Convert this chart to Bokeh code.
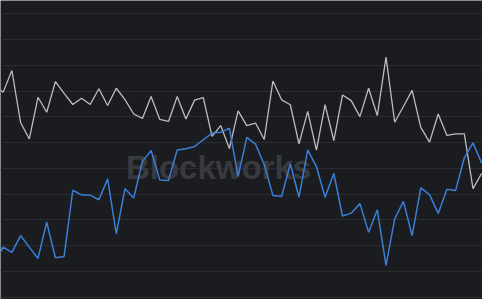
from bokeh.plotting import figure
from bokeh.models import Grid, FixedTicker, Label, Range1d, ColumnDataSource
from bokeh.embed import file_html
from bokeh.resources import INLINE

# series values (index 0 sits just left of the visible area)
grey_series = [81.8, 79.6, 88.0, 67.8, 61.4, 77.6, 71.8, 83.7, 79.1, 74.8,
               77.2, 74.8, 80.9, 74.4, 81.1, 76.7, 71.1, 69.4, 77.9, 69.0,
               68.2, 77.9, 69.2, 76.5, 77.5, 62.4, 66.6, 57.7, 72.3, 66.6,
               67.6, 61.2, 83.9, 76.6, 74.7, 59.5, 72.1, 57.1, 74.7, 60.8,
               78.5, 76.3, 70.1, 81.1, 70.5, 93.2, 67.9, 74.0, 80.3, 65.9,
               60.2, 71.1, 62.8, 63.4, 63.4, 42.1, 48.1]
blue_series = [13.4, 19.4, 17.4, 23.9, 19.4, 15.0, 29.1, 15.3, 15.8, 41.5,
               39.7, 39.6, 37.8, 45.9, 24.6, 42.1, 38.5, 52.7, 56.9, 45.5,
               45.3, 57.1, 57.6, 58.5, 61.1, 63.7, 64.0, 65.6, 46.8, 62.0,
               59.4, 51.5, 39.5, 39.1, 51.8, 38.8, 57.2, 50.7, 38.8, 48.0,
               31.5, 32.6, 36.3, 25.2, 33.9, 12.3, 30.4, 37.2, 23.9, 42.4,
               39.8, 32.5, 41.9, 41.4, 54.1, 59.9, 52.0]
periods = list(range(len(grey_series)))
grid_values = [0, 10, 20, 30, 40, 50, 60, 70, 80, 90, 100, 110]
watermark = "Blockworks"

BG = "#1b1c20"

p = figure(width=482, height=299, output_backend="svg", toolbar_location=None,
           x_axis_location=None, y_axis_location=None,
           x_range=Range1d(0.69, 56.09), y_range=Range1d(-0.93, 115.18),
           min_border=0, background_fill_color=BG, border_fill_color=BG,
           outline_line_color=None)
p.xgrid.visible = False
p.ygrid.visible = False

p.add_layout(Grid(dimension=1, ticker=FixedTicker(ticks=grid_values),
                  grid_line_color="#2b2c31", grid_line_width=1))

p.add_layout(Label(x=218, y=132, x_units="screen", y_units="screen",
                   text=watermark, text_align="center", text_baseline="alphabetic",
                   text_font="Liberation Sans", text_font_style="bold",
                   text_font_size="33px", text_color="#393a3f", level="underlay"))

src = ColumnDataSource(dict(x=periods, grey=grey_series, blue=blue_series))
p.line("x", "grey", source=src, line_color="#bdbdbd", line_width=1.3)
p.line("x", "blue", source=src, line_color="#3a7fd5", line_width=1.5)

open("out.html", "w").write(file_html(p, INLINE))
